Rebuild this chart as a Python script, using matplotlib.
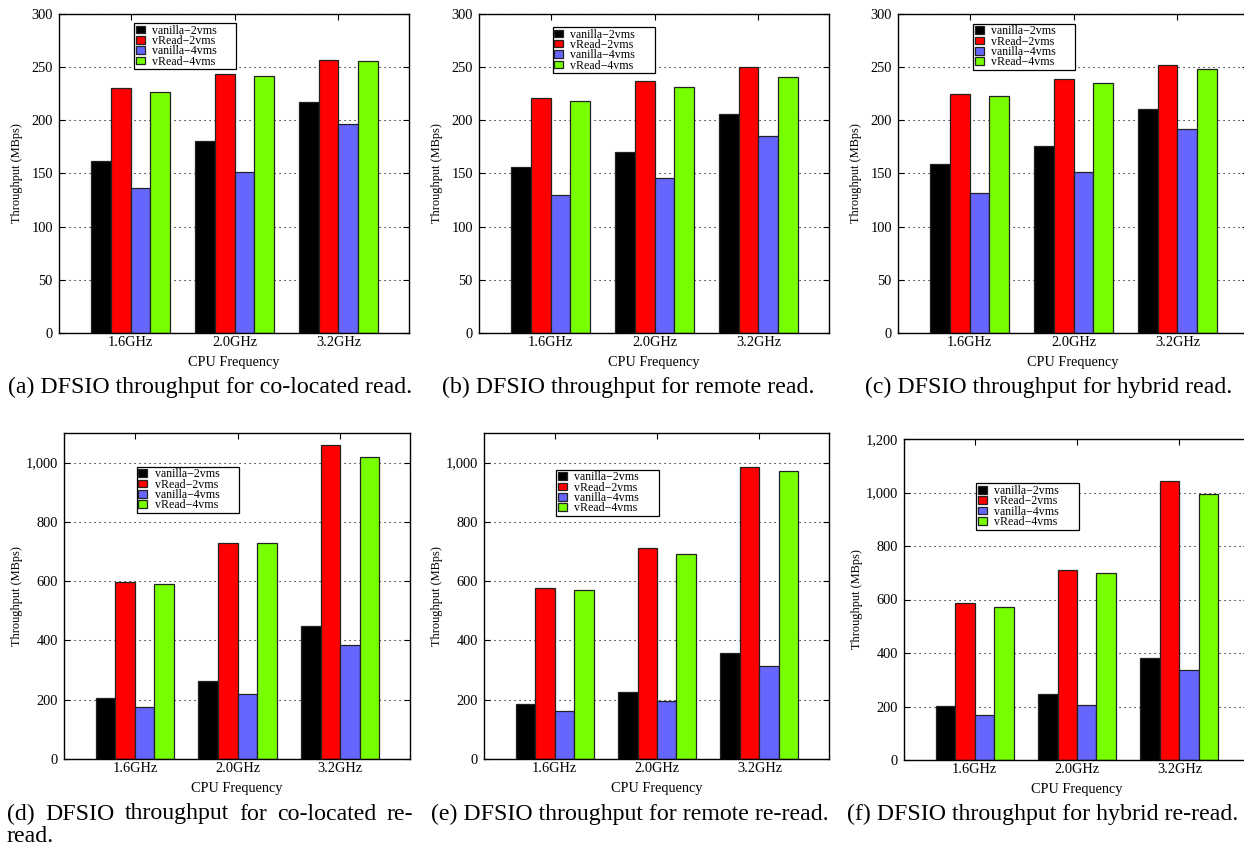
import numpy as np
import matplotlib
matplotlib.use('Agg')
import matplotlib.pyplot as plt
from matplotlib.ticker import FuncFormatter

plt.rcParams['font.family'] = ['Liberation Serif', 'DejaVu Serif']

W, H = 1244, 851
freqs = ['1.6GHz', '2.0GHz', '3.2GHz']
series = ['vanilla\u22122vms', 'vRead\u22122vms', 'vanilla\u22124vms', 'vRead\u22124vms']
colors = ['#000000', '#ff0000', '#6666ff', '#77ff00']

# throughput (MBps), per panel: one list per series over the three frequencies
a_vals = [[162, 181, 217], [230, 244, 257], [136, 151, 197], [227, 242, 256]]
b_vals = [[156, 170, 206], [221, 237, 250], [130, 146, 185], [218, 231, 241]]
c_vals = [[159, 176, 211], [225, 239, 252], [132, 151, 192], [223, 235, 248]]
d_vals = [[207, 264, 450], [597, 728, 1059], [175, 219, 385], [591, 728, 1018]]
e_vals = [[187, 225, 356], [577, 712, 984], [163, 195, 314], [570, 692, 971]]
f_vals = [[202, 246, 383], [586, 712, 1042], [170, 206, 338], [571, 698, 995]]

captions = ['(a) DFSIO throughput for co-located read.',
            '(b) DFSIO throughput for remote read.',
            '(c) DFSIO throughput for hybrid read.',
            '(d) DFSIO throughput for co-located re-',
            '(e) DFSIO throughput for remote re-read.',
            '(f) DFSIO throughput for hybrid re-read.']

# panel boxes in pixels: left, right, top, bottom
boxes = [(59, 409, 14, 333), (479, 829, 14, 333), (898, 1248, 14, 333),
         (64, 410, 433, 759), (484, 829, 433, 759), (904, 1249, 439, 760)]
ylims = [300, 300, 300, 1100, 1100, 1200]
ysteps = [50, 50, 50, 200, 200, 200]
yticktop = [300, 300, 300, 1000, 1000, 1200]
leg_pos = [(0.214, 0.972), (0.21, 0.96), (0.214, 0.97),
           (0.21, 0.897), (0.21, 0.888), (0.21, 0.862)]
ylab_x = [17, 437, 856, 17, 437, 857]
cap_x = [210, 628, 1049, None, 630, 1043]
cap_y = [387, 387, 387, 814, 814, 814]
cap_fs = 17.2

fig = plt.figure(figsize=(W / 100, H / 100), dpi=100)

data = [a_vals, b_vals, c_vals, d_vals, e_vals, f_vals]
x = np.arange(len(freqs))
bw = 0.19
fmt = FuncFormatter(lambda v, p: '{:,.0f}'.format(v))

for k, vals in enumerate(data):
    l, r, t, b = boxes[k]
    ax = fig.add_axes([l / W, 1 - b / H, (r - l) / W, (b - t) / H])
    for i, s in enumerate(series):
        ax.bar(x + (i - 1.5) * bw, vals[i], bw, color=colors[i],
               edgecolor='#222222', linewidth=0.9, label=s + '      ', zorder=2)
    ax.set_xlim(-0.69, 2.68)
    ax.set_ylim(0, ylims[k])
    ax.set_yticks(np.arange(0, yticktop[k] + 1, ysteps[k]))
    ax.yaxis.set_major_formatter(fmt)
    ax.set_xticks(x)
    ax.set_xticklabels(freqs)
    ax.tick_params(direction='in', length=4, width=0.8, labelsize=10.4,
                   top=True, right=True)
    ax.tick_params(axis='x', pad=2)
    ax.tick_params(axis='y', pad=4.5)
    ax.yaxis.grid(True, color='black', linestyle=(0, (1, 3.5)), linewidth=0.8)
    ax.set_axisbelow(True)
    for sp in ax.spines.values():
        sp.set_linewidth(1.0)
    ax.set_ylabel('Throughput (MBps)', fontsize=8.9)
    ax.yaxis.set_label_coords((ylab_x[k] + 6 - l) / (r - l), 0.5)
    ax.set_xlabel('CPU Frequency', fontsize=10.3, labelpad=5)
    leg = ax.legend(loc='upper left', bbox_to_anchor=leg_pos[k], borderaxespad=0,
                    fontsize=8.6, frameon=True, fancybox=False, edgecolor='black',
                    framealpha=1, labelspacing=-0.14, handlelength=0.75,
                    handleheight=0.6, handletextpad=0.6, borderpad=0.15)
    leg.get_frame().set_linewidth(0.9)
    leg.set_zorder(5)
    if cap_x[k] is not None:
        fig.text(cap_x[k] / W, 1 - cap_y[k] / H, captions[k], ha='center',
                 va='center', fontsize=cap_fs)

# justified two-line caption for panel (d)
renderer = fig.canvas.get_renderer()
words = captions[3].split(' ')
objs = [fig.text(0, 1 - cap_y[3] / H, w_, ha='left', va='center', fontsize=cap_fs)
        for w_ in words]
widths = [o.get_window_extent(renderer).width for o in objs]
x0, x1 = 7, 413
gap = (x1 - x0 - sum(widths)) / (len(words) - 1)
pos = x0
for o, wd in zip(objs, widths):
    o.set_x(pos / W)
    pos += wd + gap
fig.text(7 / W, 1 - 837 / H, 'read.', ha='left', va='center', fontsize=cap_fs)

fig.savefig('out.png', dpi=100)
